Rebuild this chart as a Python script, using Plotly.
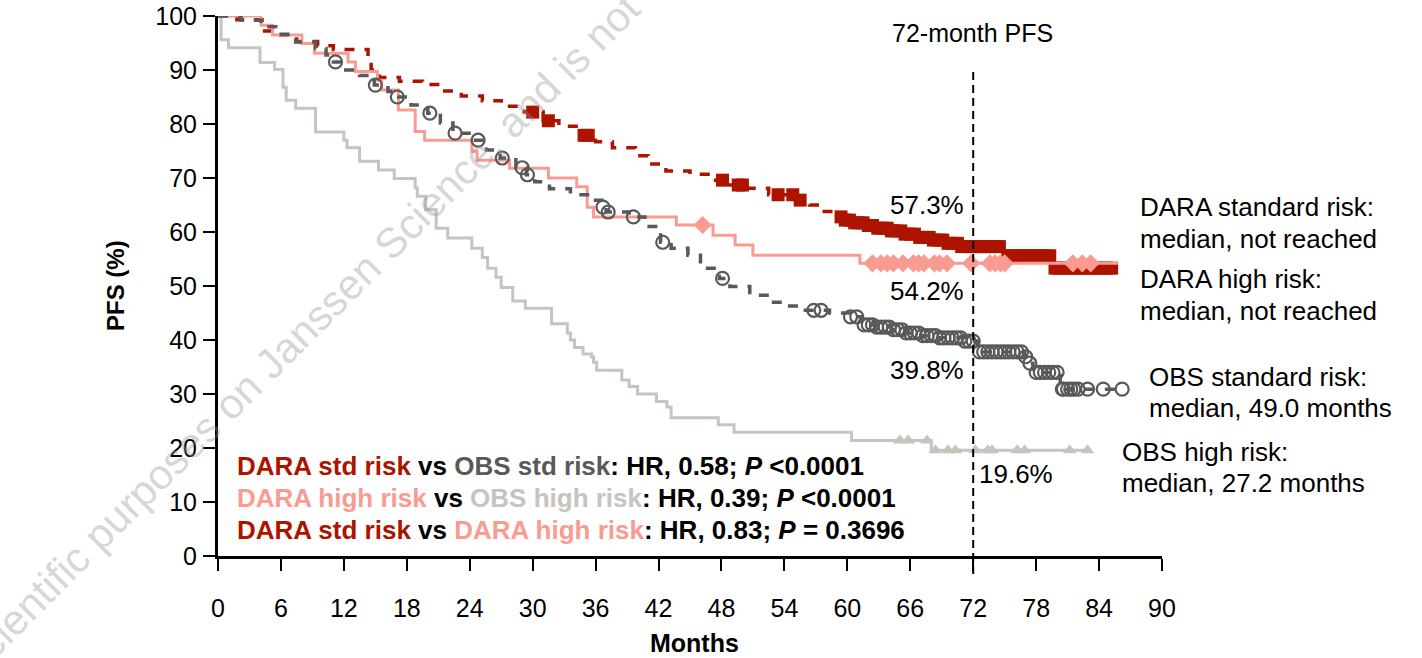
import numpy as np
import plotly.graph_objects as go

# ---------------- data ----------------
x_ticks = [0, 6, 12, 18, 24, 30, 36, 42, 48, 54, 60, 66, 72, 78, 84, 90]
y_ticks = [0, 10, 20, 30, 40, 50, 60, 70, 80, 90, 100]

# DARA standard risk (step curve + censor marks)
dara_sr_t = [0, 1.8, 4.2, 5.6, 7.5, 9.5, 11.0, 14.3, 14.6, 15.4, 17.3, 19.5, 21.3, 23.2, 25.2,
             27.0, 29.2, 31.0, 32.5, 34.6, 36.0, 37.6, 39.8, 41.0, 42.7, 45.0, 47.0, 48.5,
             50.3, 52.5, 55.3, 56.4, 57.8, 58.8, 59.6, 60.6, 61.6, 62.6, 64.0, 65.4, 66.8,
             68.0, 69.2, 70.6, 74.8, 75.1, 79.6]
dara_sr_s = [100, 99.3, 97.2, 96.5, 95.3, 94.5, 93.8, 91.0, 90.0, 88.6, 87.9, 87.3, 86.1, 85.2, 84.3,
             83.3, 82.2, 80.6, 79.6, 77.9, 76.7, 75.6, 74.1, 72.6, 71.3, 70.7, 69.6, 68.7,
             68.1, 66.9, 65.9, 65.0, 63.8, 62.8, 62.2, 61.7, 61.2, 60.7, 60.2, 59.6, 59.0,
             58.5, 57.9, 57.3, 56.4, 55.6, 53.3]
dara_sr_end = 85.4
dara_sr_cens = [30.0, 31.5, 34.9, 35.3, 48.1, 49.6, 50.0, 53.4, 54.8, 55.5,
                59.4, 59.8, 60.2, 60.7, 61.1, 61.5, 62.0, 62.4, 62.9, 63.3, 63.8, 64.2, 64.6,
                65.1, 65.5, 66.0, 66.4, 66.9, 67.3, 67.8, 68.2, 68.7, 69.1, 69.6, 70.0, 70.5,
                70.9, 71.4, 71.8, 72.3, 72.7, 73.2, 73.6, 74.1, 74.5, 75.3, 75.8, 76.3, 76.8,
                77.3, 77.8, 78.3, 78.8, 79.3, 79.8, 80.2, 80.7, 81.2, 81.7, 82.2, 82.7, 83.2,
                83.7, 84.2, 84.7, 85.2]

# DARA high risk
dara_hr_t = [0, 4.1, 5.2, 8.0, 9.2, 12.4, 13.1, 15.2, 15.6, 17.2, 18.8, 19.7, 24.2, 24.7, 27.8,
             31.5, 34.2, 35.2, 35.8, 43.7, 47.2, 49.3, 51.0, 61.2]
dara_hr_s = [100, 98.3, 96.5, 94.9, 93.1, 91.5, 89.7, 88.1, 86.3, 82.6, 78.6, 77.0, 74.9, 73.3, 71.8,
             70.0, 68.4, 64.6, 62.8, 61.3, 59.4, 57.6, 55.7, 54.2]
dara_hr_end = 85.8
dara_hr_cens = [46.2, 62.4, 63.2, 63.8, 64.4, 65.3, 66.3, 66.8, 67.3, 68.3, 68.8, 69.5, 71.8,
                73.6, 74.1, 74.6, 75.0, 81.5, 82.4, 83.2]

# OBS standard risk
obs_sr_t = [0, 2.2, 4.1, 5.5, 7.4, 9.3, 10.3, 11.0, 12.0, 13.5, 14.9, 16.2, 17.0, 18.4, 20.0,
            21.2, 22.4, 24.2, 25.6, 26.9, 28.4, 29.4, 30.2, 31.6, 33.6, 35.6, 36.6, 37.0,
            39.2, 40.7, 42.2, 43.2, 44.8, 46.0, 47.8, 48.8, 50.7, 52.6, 54.5, 56.0, 58.3,
            60.2, 61.3, 62.8, 64.2, 65.6, 67.0, 68.6, 71.2, 72.4, 76.9, 77.3, 77.7, 80.3]
obs_sr_s = [100, 99.2, 98.0, 96.6, 95.2, 94.0, 92.8, 91.5, 90.0, 89.0, 87.2, 86.0, 85.0, 83.5, 82.0,
            80.2, 78.3, 77.0, 75.2, 73.7, 71.9, 70.6, 69.3, 68.0, 66.9, 65.9, 64.6, 63.7,
            62.8, 61.0, 58.1, 57.0, 55.7, 53.3, 51.4, 49.9, 48.3, 47.0, 46.3, 45.5, 45.0,
            44.3, 42.8, 42.4, 41.9, 41.3, 40.8, 40.4, 39.8, 37.8, 36.9, 35.7, 34.0, 30.9]
obs_sr_end = 86.2
obs_sr_cens = [11.2, 15.0, 17.1, 20.2, 22.6, 24.8, 27.1, 29.0, 29.5, 36.7, 37.2, 39.6, 42.4,
               48.1, 56.8, 57.5, 60.3, 60.9, 61.6, 62.0, 62.4, 62.8, 63.2, 63.6, 64.0, 64.4,
               64.8, 65.2, 65.6, 66.0, 66.4, 66.8, 67.2, 67.6, 68.0, 68.4, 68.8, 69.2, 69.6,
               70.0, 70.4, 70.8, 71.2, 71.6, 72.0, 72.6, 73.0, 73.4, 73.8, 74.2, 74.6, 75.0,
               75.4, 75.8, 76.2, 76.6, 77.0, 77.4, 78.0, 78.4, 78.8, 79.2, 79.6, 80.0, 80.5,
               80.6, 81.0, 81.3, 81.6, 82.0, 82.9, 84.4, 86.2]

# OBS high risk
obs_hr_t = [0, 0.3, 1.0, 4.0, 5.4, 6.2, 6.5, 7.4, 9.3, 12.0, 12.3, 13.5, 15.3, 16.8, 18.8, 19.0,
            19.8, 20.8, 21.9, 24.2, 25.2, 25.7, 26.5, 27.0, 28.1, 29.3, 31.8, 33.3, 33.6, 34.0,
            34.8, 35.6, 35.8, 36.1, 38.5, 39.2, 40.0, 41.8, 42.8, 43.2, 47.7, 49.2, 60.4, 68.0]
obs_hr_s = [100, 95.6, 94.1, 91.4, 90.1, 86.8, 84.4, 82.9, 78.5, 77.0, 75.6, 73.1, 71.5, 69.9,
            68.2, 66.6, 64.1, 60.7, 58.9, 57.0, 55.3, 53.3, 51.6, 49.7, 47.2, 45.9, 43.0, 41.3,
            40.0, 38.6, 37.4, 36.9, 35.9, 34.4, 32.6, 31.4, 30.0, 28.6, 27.6, 25.6, 24.3, 22.9,
            21.4, 19.6]
obs_hr_end = 82.9
obs_hr_cens = [65.0, 65.8, 67.6, 68.4, 69.6, 70.3, 72.2, 73.4, 73.8, 76.2, 76.9, 81.2, 82.9]

pct_labels = ["57.3%", "54.2%", "39.8%", "19.6%"]

# ---------------- styling ----------------
DARK_RED = "#AD1400"
SALMON = "#FA9B91"
DARK_GRAY = "#595959"
LIGHT_GRAY = "#C8C3BD"
FONT = "Arial, Liberation Sans, sans-serif"

W, H = 1422, 658
L, R, T, B = 218, 260, 16, 102


def px(xp):
    return (xp - L) / (W - L - R)


def py(yp):
    return (H - B - yp) / (H - T - B)


def step_lookup(times, surv, pts):
    idx = np.searchsorted(np.asarray(times), np.asarray(pts), side="right") - 1
    return list(np.asarray(surv)[idx])


fig = go.Figure()


def add_group(times, surv, end, cens, color, dash, width, symbol, msize, mline=0):
    xs = list(times) + [end]
    ys = list(surv) + [surv[-1]]
    fig.add_trace(go.Scatter(x=xs, y=ys, mode="lines", line_shape="hv",
                             line=dict(color=color, width=width, dash=dash),
                             hoverinfo="skip", showlegend=False))
    fig.add_trace(go.Scatter(x=cens, y=step_lookup(times, surv, cens), mode="markers",
                             marker=dict(symbol=symbol, size=msize, color=color,
                                         line=dict(color=color, width=mline)),
                             cliponaxis=False, hoverinfo="skip", showlegend=False))


add_group(obs_hr_t, obs_hr_s, obs_hr_end, obs_hr_cens, LIGHT_GRAY, "solid", 3,
          "triangle-up", 12)
add_group(dara_sr_t, dara_sr_s, dara_sr_end, dara_sr_cens, DARK_RED, "10px,10px", 3.5,
          "square", 13)
add_group(dara_hr_t, dara_hr_s, dara_hr_end, dara_hr_cens, SALMON, "solid", 3,
          "diamond", 14)
add_group(obs_sr_t, obs_sr_s, obs_sr_end, obs_sr_cens, DARK_GRAY, "10px,10px", 3.5,
          "circle-open", 13, 2.2)

# 72-month reference line
fig.add_shape(type="line", xref="x", yref="paper", x0=72, x1=72, y0=py(574), y1=py(68),
              line=dict(color="black", width=2, dash="8px,5px"))

ann = []


def text(x, y, s, size=26, xanchor="center", color="black", angle=0):
    ann.append(dict(x=px(x), y=py(y), xref="paper", yref="paper", text=s, showarrow=False,
                    xanchor=xanchor, yanchor="middle", textangle=angle,
                    font=dict(family=FONT, size=size, color=color)))


# faint watermark (drawn first)
text(300, 333, "scientific purposes on Janssen Science, and is not", size=42,
     color="rgba(150,150,150,0.40)", angle=-45)

text(972, 33, "72-month PFS", size=25)
text(927, 205, pct_labels[0])
text(927, 291, pct_labels[1])
text(927, 370, pct_labels[2])
text(1016, 474, pct_labels[3])

text(1138, 207, "DARA standard risk:", xanchor="left")
text(1138, 239, "median, not reached", xanchor="left")
text(1138, 279, "DARA high risk:", xanchor="left")
text(1138, 311, "median, not reached", xanchor="left")
text(1147, 377, "OBS standard risk:", xanchor="left")
text(1147, 408, "median, 49.0 months", xanchor="left")
text(1120, 452, "OBS high risk:", xanchor="left")
text(1120, 483, "median, 27.2 months", xanchor="left")


def c(s, col):
    return f"<span style='color:{col}'>{s}</span>"


hr1 = ("<b>" + c("DARA std risk", DARK_RED) + " vs " + c("OBS std risk", DARK_GRAY)
       + ": HR, 0.58; <i>P</i> &lt;0.0001</b>")
hr2 = ("<b>" + c("DARA high risk", SALMON) + " vs " + c("OBS high risk", LIGHT_GRAY)
       + ": HR, 0.39; <i>P</i> &lt;0.0001</b>")
hr3 = ("<b>" + c("DARA std risk", DARK_RED) + " vs " + c("DARA high risk", SALMON)
       + ": HR, 0.83; <i>P</i> = 0.3696</b>")
text(235, 466, hr1, xanchor="left")
text(235, 498, hr2, xanchor="left")
text(235, 530, hr3, xanchor="left")

text(694, 643, "<b>Months</b>", size=25)
text(115, 286, "<b>PFS (%)</b>", size=24, angle=-90)

fig.update_layout(
    width=W, height=H,
    margin=dict(l=L, r=R, t=T, b=B, pad=0, autoexpand=False),
    paper_bgcolor="white", plot_bgcolor="white",
    annotations=ann,
    xaxis=dict(range=[0, 90], tickvals=x_ticks, ticktext=[str(v) for v in x_ticks],
               automargin=False,
               showgrid=False, zeroline=False, showline=True, linecolor="black",
               linewidth=3, ticks="outside", ticklen=12, tickwidth=2, tickcolor="black",
               ticklabelstandoff=16,
               tickfont=dict(family=FONT, size=25, color="black"), fixedrange=True),
    yaxis=dict(range=[0, 100], tickvals=y_ticks, ticktext=[str(v) for v in y_ticks],
               automargin=False,
               showgrid=False, zeroline=False, showline=True, linecolor="black",
               linewidth=3, ticks="outside", ticklen=12, tickwidth=2, tickcolor="black",
               ticklabelstandoff=1,
               tickfont=dict(family=FONT, size=25, color="black"), fixedrange=True),
)

fig.write_html("out.html", config={"displayModeBar": False},
               post_script="document.body.style.margin='0px';")
